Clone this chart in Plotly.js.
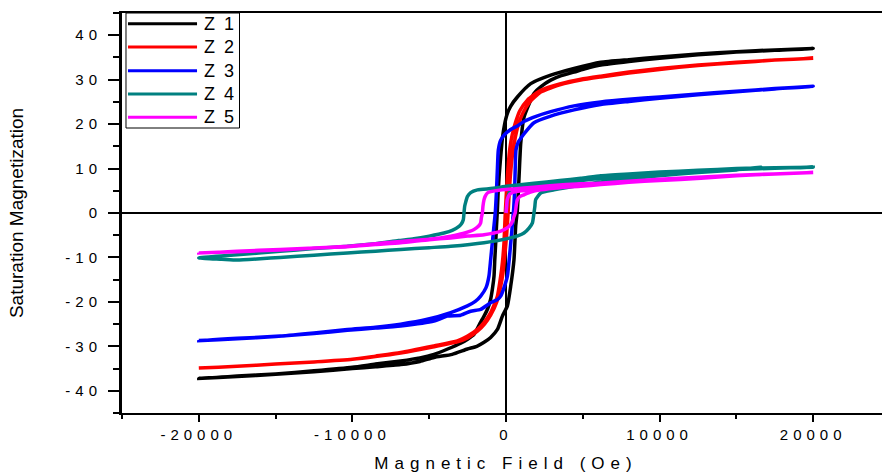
<!DOCTYPE html>
<html>
<head>
<meta charset="utf-8">
<script src="https://cdn.plot.ly/plotly-3.0.1.min.js"></script>
<style>
  html, body { margin: 0; padding: 0; overflow: hidden; background: #fff; }
  #chart { width: 900px; height: 475px; }
  .xtick text, .ytick text { letter-spacing: 5px; }
  .g-xtitle text { letter-spacing: 6px; }
  .annotation-text { letter-spacing: 2px; }
</style>
</head>
<body>
<div id="chart"></div>
<script>
// ---- Series names and colours ----
const seriesNames = ["Z 1", "Z 2", "Z 3", "Z 4", "Z 5"];
const seriesColors = ["#000000", "#ff0000", "#0000ff", "#008080", "#ff00ff"];

// ---- Z 1 (descending branch then ascending branch) ----
const z1Field = [20000, 17500, 15000, 12500, 10000, 8000, 6170, 4430, 2910, 1610, 740, 300, 90, -100, -235, -350, -450, -520, -560, -620, -670, -730, -780, -880, -1000, -1200, -1430, -1750, -2080, -2500, -2950, -3800, -4690, -5600, -6860, -8500, -10000, -12500, -15000, -17500, -20000,
  -17500, -15000, -12500, -10000, -8500, -6860, -5600, -4690, -3500, -2515, -1900, -1430, -1000, -560, -235, 90, 305, 520, 630, 740, 850, 960, 1170, 1500, 1820, 2300, 2910, 3600, 4430, 5200, 6170, 8000, 10000, 12500, 15000, 17500, 20000];
const z1Moment = [37.0, 36.7, 36.3, 35.8, 35.1, 34.5, 33.9, 32.5, 31.0, 29.1, 26.1, 24.0, 22.4, 19.8, 16.8, 12.5, 8.2, 4.0, 0.7, -3.0, -6.7, -10.5, -14.2, -17.0, -19.4, -21.6, -23.2, -25.2, -27.3, -28.4, -29.3, -30.6, -31.8, -32.6, -33.3, -34.0, -34.7, -35.5, -36.2, -36.7, -37.2,
  -36.8, -36.3, -35.7, -35.0, -34.6, -34.1, -33.4, -32.5, -31.8, -30.6, -30.0, -29.1, -28.0, -26.2, -23.2, -20.9, -16.5, -10.5, -3.0, 0.7, 8.2, 15.7, 21.5, 24.5, 26.9, 28.5, 29.9, 30.9, 31.7, 32.5, 33.3, 34.1, 34.8, 35.6, 36.2, 36.6, 37.0];

// ---- Z 2 ----
const z2Field = [20000, 17500, 15000, 12500, 10000, 8000, 6170, 4870, 3560, 2260, 1390, 900, 630, 400, 250, 150, 60, 0, -60, -130, -230, -345, -560, -1000, -1400, -1860, -2500, -3170, -4690, -6860, -8500, -10000, -12500, -15000, -17500, -20000,
  -17500, -15000, -12500, -10000, -8500, -6860, -4690, -3170, -2500, -1860, -1400, -1000, -600, -345, -200, -80, 30, 120, 200, 280, 400, 550, 800, 1100, 1500, 2260, 3560, 4870, 6170, 8000, 10000, 12500, 15000, 17500, 20000];
const z2Moment = [34.8, 34.4, 33.9, 33.3, 32.5, 31.7, 30.8, 30.1, 29.1, 27.6, 25.4, 23.0, 20.5, 17.5, 14.5, 11.0, 6.5, 3.0, -1.0, -6.7, -11.0, -14.2, -18.7, -22.4, -24.5, -26.2, -27.7, -28.8, -29.9, -31.4, -32.2, -32.9, -33.5, -34.0, -34.5, -34.9,
  -34.5, -34.0, -33.5, -32.9, -32.3, -31.5, -30.1, -29.0, -28.1, -26.6, -25.0, -23.0, -20.0, -16.5, -13.5, -9.5, -5.5, -1.0, 4.0, 8.2, 12.5, 16.0, 19.8, 22.5, 24.8, 27.2, 28.9, 29.9, 30.6, 31.5, 32.3, 33.2, 33.8, 34.4, 34.8];

// ---- Z 3 ----
const z3Field = [20000, 17500, 15000, 12500, 10000, 8000, 6170, 4430, 2910, 2000, 1170, 740, 305, -100, -345, -500, -560, -620, -700, -800, -890, -1000, -1110, -1300, -1650, -2000, -2515, -3600, -5120, -6860, -8500, -10330, -12500, -14700, -17500, -20000,
  -17500, -15000, -12500, -10330, -8500, -6860, -4690, -3820, -2950, -2300, -1650, -1000, -560, -345, -100, 90, 250, 380, 450, 500, 560, 600, 650, 800, 960, 1170, 1820, 2910, 4430, 6170, 8000, 10000, 12500, 15000, 17500, 20000];
const z3Moment = [28.5, 28.0, 27.4, 26.8, 26.1, 25.6, 25.0, 24.1, 22.8, 21.8, 20.6, 19.6, 18.8, 17.6, 16.4, 14.2, 10.0, 5.0, 0.0, -3.5, -6.7, -10.5, -14.2, -16.8, -18.7, -19.9, -20.9, -22.4, -23.9, -25.0, -25.7, -26.2, -27.0, -27.7, -28.2, -28.7,
  -28.3, -27.8, -27.1, -26.4, -25.9, -25.4, -24.3, -23.2, -23.0, -22.1, -21.7, -20.2, -19.5, -18.7, -16.5, -14.2, -9.0, -4.0, -1.0, 1.0, 5.0, 10.0, 14.2, 16.0, 16.8, 17.8, 20.3, 21.8, 23.2, 24.4, 25.1, 25.8, 26.6, 27.3, 27.9, 28.5];

// ---- Z 4 (initial curve, descending branch, ascending branch) ----
const z4Field = [0, 60, 150, 300, 600, 1500, 3130, 6170, 10000, 15000, 20000,
  17500, 15000, 12500, 10000, 8000, 6170, 4870, 3500, 1820, 0, -345, -1000, -1860, -2300, -2515, -2620, -2690, -2735, -2780, -2900, -3060, -3500, -4040, -5000, -6000, -7000, -8500, -10330, -12500, -14700, -17500, -20000,
  -18500, -17500, -16000, -14700, -12500, -10330, -8500, -6860, -5000, -3600, -1430, 305, 800, 1170, 1500, 1720, 1820, 1880, 1930, 2260, 3130, 4870, 6170, 8000, 10000, 12500, 15000, 16600, 16700, 17500, 20000];
const z4Moment = [0.0, 2.0, 4.0, 5.0, 5.5, 6.0, 6.5, 7.8, 8.8, 9.8, 10.3,
  10.2, 10.0, 9.6, 9.2, 8.8, 8.4, 7.8, 7.3, 6.7, 6.0, 5.8, 5.5, 5.2, 4.6, 3.7, 2.5, 1.5, 0.0, -1.5, -2.4, -3.0, -3.9, -4.5, -5.2, -5.8, -6.2, -6.9, -7.5, -8.0, -8.6, -9.4, -10.1,
  -10.4, -10.6, -10.3, -10.0, -9.5, -9.0, -8.6, -8.2, -7.8, -7.5, -6.7, -5.6, -5.1, -4.5, -3.4, -2.2, 0.0, 1.5, 3.0, 4.5, 5.2, 6.3, 7.0, 7.7, 8.4, 9.1, 9.7, 10.3, 10.0, 10.1, 10.3];

// ---- Z 5 (initial curve, descending branch, ascending branch) ----
const z5Field = [0, 40, 80, 200, 400, 1000, 2260, 4870, 10000, 15000, 20000,
  17500, 15000, 12690, 10000, 8000, 6170, 4870, 3500, 1820, 500, -345, -1000, -1210, -1350, -1430, -1500, -1540, -1600, -1650, -1800, -2080, -2800, -3600, -5000, -6860, -8500, -10330, -12500, -14700, -17500, -20000,
  -17500, -14700, -12500, -10330, -8500, -6860, -5000, -3600, -2500, -1430, -345, 100, 305, 450, 520, 600, 630, 680, 740, 900, 1170, 1600, 2260, 3500, 4870, 6170, 8000, 10000, 12500, 15000, 17500, 20000];
const z5Moment = [0.0, 1.5, 3.0, 4.0, 4.6, 5.0, 5.4, 6.4, 7.6, 8.5, 9.1,
  8.8, 8.4, 7.8, 7.3, 7.0, 6.7, 6.6, 6.3, 5.8, 5.4, 5.2, 4.8, 4.5, 3.8, 3.0, 1.5, 0.0, -1.0, -2.2, -3.0, -3.7, -4.6, -5.2, -5.9, -6.4, -6.9, -7.5, -7.9, -8.2, -8.6, -9.0,
  -8.7, -8.3, -7.9, -7.6, -7.1, -6.7, -6.0, -5.6, -5.2, -4.9, -4.1, -3.3, -2.6, -1.6, -0.8, 0.0, 0.7, 2.0, 3.0, 3.7, 4.1, 4.7, 5.2, 5.7, 6.0, 6.4, 6.9, 7.4, 7.9, 8.4, 8.8, 9.1];

// ---- Axis ticks ----
const xTickVals = [-20000, -10000, 0, 10000, 20000];
const xTickText = ["-20000", "-10000", "0", "10000", "20000"];
const yTickVals = [-40, -30, -20, -10, 0, 10, 20, 30, 40];
const yTickText = ["-40", "-30", "-20", "-10", "0", "10", "20", "30", "40"];

const fields = [z1Field, z2Field, z3Field, z4Field, z5Field];
const moments = [z1Moment, z2Moment, z3Moment, z4Moment, z5Moment];

const traces = seriesNames.map((name, i) => ({
  type: "scatter",
  mode: "lines",
  name: name,
  x: fields[i],
  y: moments[i],
  line: { color: seriesColors[i], width: 3.5, shape: "spline", smoothing: 0.5 },
  hoverinfo: "skip"
}));

const FONT = "Liberation Sans, Arial, Helvetica, sans-serif";

// Legend drawn as a framed box with line samples (paper coordinates)
const legendBox = { x0: 0.0052, x1: 0.153, y0: 0.7125, y1: 1.0 };
const legendRows = [0.9733, 0.915, 0.8558, 0.7975, 0.7393];
const legendLine = { x0: 0.0078, x1: 0.0977 };
const legendTextX = 0.1045;

const shapes = [{
  type: "rect", xref: "paper", yref: "paper",
  x0: legendBox.x0, x1: legendBox.x1, y0: legendBox.y0, y1: legendBox.y1,
  line: { color: "#000", width: 1 }, fillcolor: "#fff", layer: "above"
}];
const annotations = [];
seriesNames.forEach((name, i) => {
  shapes.push({
    type: "line", xref: "paper", yref: "paper",
    x0: legendLine.x0, x1: legendLine.x1, y0: legendRows[i], y1: legendRows[i],
    line: { color: seriesColors[i], width: 3 }, layer: "above"
  });
  annotations.push({
    xref: "paper", yref: "paper", x: legendTextX, y: legendRows[i],
    xanchor: "left", yanchor: "middle", showarrow: false,
    text: name, font: { family: FONT, size: 18, color: "#000" }
  });
});

const layout = {
  width: 900, height: 475,
  margin: { l: 122, r: 10, t: 13, b: 62 },
  paper_bgcolor: "#fff", plot_bgcolor: "#fff",
  showlegend: false,
  font: { family: FONT, color: "#000" },
  xaxis: {
    range: [-25000, 25000],
    tickmode: "array", tickvals: xTickVals, ticktext: xTickText,
    ticks: "outside", ticklen: 7, tickwidth: 2, tickcolor: "#000",
    minor: { dtick: 5000, tick0: 0, ticks: "outside", ticklen: 4, tickwidth: 2, tickcolor: "#000", showgrid: false },
    showline: true, linewidth: 2, linecolor: "#000", mirror: true,
    showgrid: false,
    zeroline: true, zerolinecolor: "#000", zerolinewidth: 2,
    tickfont: { family: FONT, size: 15, color: "#000" },
    title: { text: "Magnetic Field (Oe)", font: { family: FONT, size: 17, color: "#000" }, standoff: 15 }
  },
  yaxis: {
    range: [-45, 45],
    tickmode: "array", tickvals: yTickVals, ticktext: yTickText,
    ticks: "outside", ticklen: 11, tickwidth: 2, tickcolor: "#000",
    ticklabelstandoff: 3,
    minor: { dtick: 5, tick0: 0, ticks: "outside", ticklen: 6, tickwidth: 2, tickcolor: "#000", showgrid: false },
    showline: true, linewidth: 3, linecolor: "#000", mirror: true,
    showgrid: false,
    zeroline: true, zerolinecolor: "#000", zerolinewidth: 2,
    tickfont: { family: FONT, size: 15, color: "#000" },
    title: { text: "Saturation Magnetization", font: { family: FONT, size: 19, color: "#000" }, standoff: 37 }
  },
  shapes: shapes,
  annotations: annotations
};

Plotly.newPlot("chart", traces, layout, { staticPlot: true, displayModeBar: false });
</script>
</body>
</html>
